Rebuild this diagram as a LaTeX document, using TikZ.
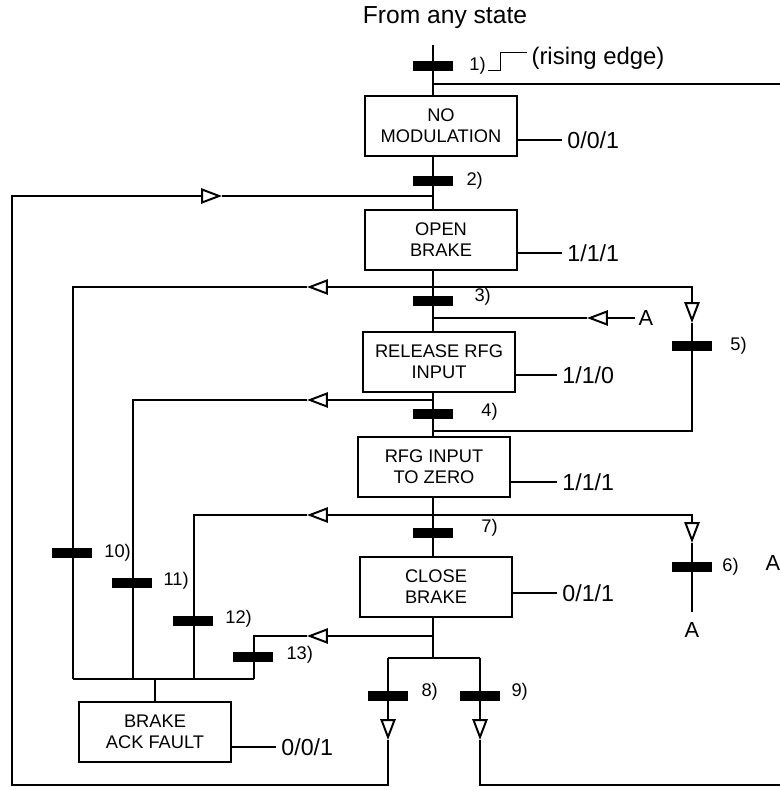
\documentclass[tikz,border=0pt]{standalone}
\usepackage{fontspec}
\setmainfont{Liberation Sans}
\usepackage{tikz}
\usetikzlibrary{positioning, arrows.meta, calc}

\begin{document}
\begin{tikzpicture}[
        x=0.025cm, y=-0.025cm,
        line width=1.8pt,
        state/.style={
          draw,
          line width=2pt,
          minimum width=3.8cm,
          minimum height=1.5cm,
          inner sep=0pt,
          align=center,
          font=\fontsize{13}{14.8}\selectfont
        },
        bar/.style={
          fill=black,
          minimum width=1.02cm,
          minimum height=0.23cm,
          inner sep=0pt
        },
        steplabel/.style={inner sep=1pt, font=\fontsize{13}{14}\selectfont},
        output/.style={inner xsep=3pt, anchor=west, font=\fontsize{16.5}{18}\selectfont},
        marker/.style={inner sep=2pt, font=\fontsize{15.5}{17}\selectfont},
        flow/.style={-{Triangle[open, length=0.52cm, width=0.38cm, line width=1.4pt]}}
      ]
        \useasboundingbox (0,0) rectangle (779,787);

        \node[font=\fontsize{17.5}{19}\selectfont] (anystate) at (445,18) {From any state};

        \node[state] (nomod) at (441,126) {NO\\MODULATION};
        \node[state] (openbrake) at (441,240) {OPEN\\BRAKE};
        \node[state] (release) at (439,362) {RELEASE RFG\\INPUT};
        \node[state] (tozero) at (434,467) {RFG INPUT\\TO ZERO};
        \node[state] (closebrake) at (436,587) {CLOSE\\BRAKE};
        \node[state] (ackfault) at (155,732) {BRAKE\\ACK FAULT};

        \node[output] (out1) at (562,140) {0/0/1};
        \node[output] (out2) at (562,253) {1/1/1};
        \node[output] (out3) at (557,375) {1/1/0};
        \node[output] (out4) at (557,482) {1/1/1};
        \node[output] (out5) at (557,593) {0/1/1};
        \node[output] (out6) at (276,747) {0/0/1};
        \draw (nomod.east |- out1.west) -- (out1.west);
        \draw (openbrake.east |- out2.west) -- (out2.west);
        \draw (release.east |- out3.west) -- (out3.west);
        \draw (tozero.east |- out4.west) -- (out4.west);
        \draw (closebrake.east |- out5.west) -- (out5.west);
        \draw (ackfault.east |- out6.west) -- (out6.west);

        \coordinate (top) at (433,45);
        \coordinate (restart) at (433,84);
        \coordinate (restartend) at (785,84);
        \coordinate (j2) at (433,196);
        \coordinate (j3) at (433,287);
        \coordinate (jA) at (433,318);
        \coordinate (j4) at (433,400);
        \coordinate (j5) at (433,431);
        \coordinate (j7) at (433,515);
        \coordinate (j13) at (433,636);
        \coordinate (fork) at (433,658);
        \coordinate (fork8) at (388,658);
        \coordinate (fork9) at (480,658);

        \draw (top) -- (top |- nomod.north);
        \draw (restart) -- (restartend);
        \draw (top |- nomod.south) -- (top |- openbrake.north);
        \draw (top |- openbrake.south) -- (top |- release.north);
        \draw (top |- release.south) -- (top |- tozero.north);
        \draw (top |- tozero.south) -- (top |- closebrake.north);
        \draw (top |- closebrake.south) -- (fork);
        \draw (fork8) -- (fork9);

        \draw[line width=0.7pt] (488,70) -- (500,70) -- (500,52) -- (527,52);
        \node[font=\fontsize{17}{19}\selectfont] (rising) at (598,58) {(rising edge)};

        \coordinate (a8) at (388,740);
        \coordinate (a9) at (480,740);
        \coordinate (loopcorner) at (12,785);
        \coordinate (exit9) at (785,785);
        \coordinate (a2) at (222,196);
        \draw[flow] (fork8) -- (a8);
        \draw[flow] (fork9) -- (a9);
        \draw[flow] (a8) |- (loopcorner) |- (a2);
        \draw (a2) -- (j2);
        \draw (a9) |- (exit9);

        \coordinate (a5) at (692,323);
        \draw[flow] (j3) -| (a5);
        \draw (a5) |- (j5);

        \node[marker] (atop) at (646,318) {A};
        \coordinate (aA) at (587,318);
        \draw[flow] (atop.west) -- (aA);
        \draw (aA) -- (jA);

        \node[marker] (abottom) at (692,630) {A};
        \node[marker] (aedge) at (773,563) {A};
        \coordinate (a6) at (692,543);
        \draw[flow] (j7) -| (a6);
        \draw[shorten >=0.15cm] (a6) -- (abottom.north);

        \coordinate (a10) at (307,287);
        \coordinate (a11) at (307,400);
        \coordinate (a12) at (307,515);
        \coordinate (a13) at (307,636);
        \coordinate (bot10) at (73,679);
        \coordinate (bot11) at (133,679);
        \coordinate (bot12) at (194,679);
        \coordinate (bot13) at (254,679);
        \draw[flow] (j3) -- (a10);
        \draw[flow] (j4) -- (a11);
        \draw[flow] (j7) -- (a12);
        \draw[flow] (j13) -- (a13);
        \draw (a10) -| (bot10);
        \draw (a11) -| (bot11);
        \draw (a12) -| (bot12);
        \draw (a13) -| (bot13);
        \draw (bot10) -- (bot13);
        \draw (ackfault.north) -- (ackfault.north |- bot10);

        \node[bar] (t1) at (433,66) {};
        \node[bar] (t2) at (433,181) {};
        \node[bar] (t3) at (433,301) {};
        \node[bar] (t4) at (433,414) {};
        \node[bar] (t5) at (692,346) {};
        \node[bar] (t6) at (692,567) {};
        \node[bar] (t7) at (433,533) {};
        \node[bar] (t8) at (388,696) {};
        \node[bar] (t9) at (480,696) {};
        \node[bar] (t10) at (72,553) {};
        \node[bar] (t11) at (132,583) {};
        \node[bar] (t12) at (193,621) {};
        \node[bar] (t13) at (253,657) {};

        \node[steplabel, right=0.3cm of t1] (l1) {1)};
        \node[steplabel, right=0.23cm of t2] (l2) {2)};
        \node[steplabel, right=0.43cm of t3, yshift=0.1cm] (l3) {3)};
        \node[steplabel, right=0.6cm of t4, yshift=0.05cm] (l4) {4)};
        \node[steplabel, right=0.35cm of t5] (l5) {5)};
        \node[steplabel, right=0.15cm of t6] (l6) {6)};
        \node[steplabel, right=0.6cm of t7, yshift=0.12cm] (l7) {7)};
        \node[steplabel, right=0.23cm of t8, yshift=0.1cm] (l8) {8)};
        \node[steplabel, right=0.18cm of t9, yshift=0.1cm] (l9) {9)};
        \node[steplabel, right=0.2cm of t10] (l10) {10)};
        \node[steplabel, right=0.18cm of t11, yshift=0.05cm] (l11) {11)};
        \node[steplabel, right=0.2cm of t12, yshift=0.05cm] (l12) {12)};
        \node[steplabel, right=0.23cm of t13, yshift=0.05cm] (l13) {13)};
      \end{tikzpicture}
\end{document}
